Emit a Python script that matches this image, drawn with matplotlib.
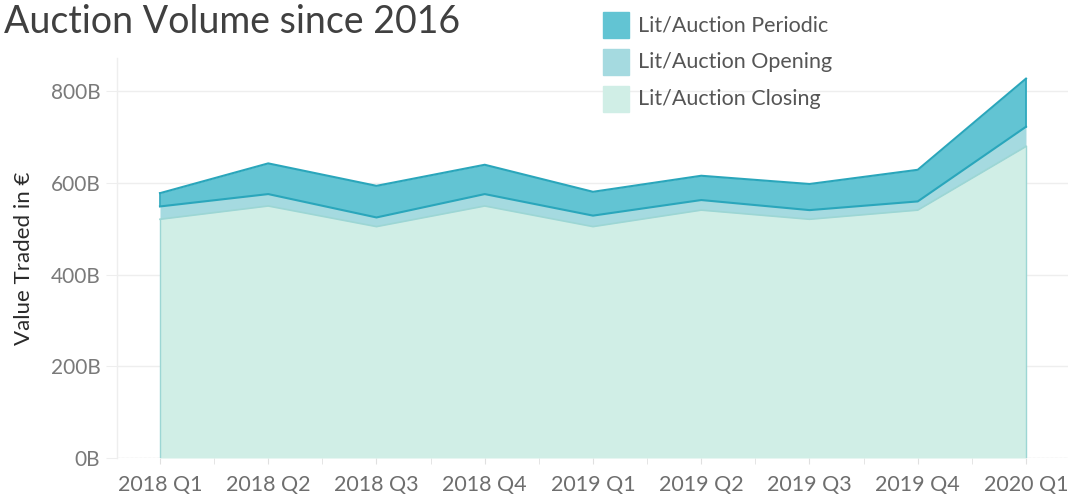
import numpy as np
import matplotlib.pyplot as plt

quarters = ['2018 Q1', '2018 Q2', '2018 Q3', '2018 Q4', '2019 Q1',
            '2019 Q2', '2019 Q3', '2019 Q4', '2020 Q1']
# values in billions of euro
closing = [521, 550, 505, 550, 505, 541, 521, 541, 680]
opening = [28, 26, 20, 26, 24, 22, 20, 19, 43]
periodic = [29, 67, 69, 64, 52, 53, 57, 69, 105]

c_per = '#62c4d3'
c_open = '#a5dae0'
c_close = '#d0eee6'
edge_dark = '#2aa6bb'
edge_light = '#9cd6d4'

plt.rcParams['font.family'] = ['Lato', 'DejaVu Sans']

fig = plt.figure(figsize=(10.68, 4.95), dpi=100)
ax = fig.add_axes([117 / 1068, 1 - 458 / 495, 1 - 117 / 1068, 400 / 495])

x = np.arange(len(quarters))
b1 = np.array(closing)
b2 = b1 + np.array(opening)
b3 = b2 + np.array(periodic)

ax.fill_between(x, 0, b1, color=c_close, lw=0, zorder=2)
ax.fill_between(x, b1, b2, color=c_open, lw=0, zorder=2)
ax.fill_between(x, b2, b3, color=c_per, lw=0, zorder=2)

# outlines
ax.plot(x, b1, color=edge_light, lw=1.2, zorder=3)
ax.plot([x[0], x[0]], [0, b1[0]], color=edge_light, lw=1.0, zorder=3)
ax.plot([x[-1], x[-1]], [0, b1[-1]], color=edge_light, lw=1.0, zorder=3)
ax.plot(x, b2, color=edge_dark, lw=1.5, zorder=4)
ax.plot(x, b3, color=edge_dark, lw=1.5, zorder=4)
ax.plot([x[0], x[0]], [b2[0], b3[0]], color=edge_dark, lw=1.2, zorder=4)
ax.plot([x[-1], x[-1]], [b2[-1], b3[-1]], color=edge_dark, lw=1.2, zorder=4)

ax.set_yticks([0, 200, 400, 600, 800])
ax.set_yticklabels(['0B', '200B', '400B', '600B', '800B'])
ax.set_xticks(x)
ax.set_xticklabels(quarters)
ax.set_xticks(np.arange(-0.5, 8.6, 0.5), minor=True)

ax.set_xlim(-0.397, 8.388)
ax.set_ylim(0, 873)

for s in ['top', 'right', 'bottom']:
    ax.spines[s].set_visible(False)
ax.spines['left'].set_color('#eeeeee')
ax.spines['left'].set_linewidth(1.0)

ax.grid(axis='y', color='#eeeeee', lw=1.0, zorder=0)
ax.set_axisbelow(True)
ax.axhline(0, color='#c8c8c8', lw=0.8, ls=(0, (2, 2)), zorder=1)

ax.tick_params(axis='y', length=8, color='#eeeeee', labelsize=15,
               labelcolor='#7a7a7a', pad=4)
ax.tick_params(axis='x', which='both', length=4, color='#e0e0e0', labelsize=15.5,
               labelcolor='#6e6e6e', pad=8)

ax.set_ylabel('Value Traded in €', fontsize=16, color='#2a2a2a')
ax.yaxis.set_label_coords(-0.087, 0.5)

fig.text(0.004, 0.955, 'Auction Volume since 2016', fontsize=27,
         color='#404040', va='center', ha='left')

# legend
labels = ['Lit/Auction Periodic', 'Lit/Auction Opening', 'Lit/Auction Closing']
colors = [c_per, c_open, c_close]
for i, (lab, col) in enumerate(zip(labels, colors)):
    yc = 25 + 37 * i
    fig.patches.append(plt.Rectangle((603 / 1068, 1 - (yc + 13) / 495), 26 / 1068,
                                     26 / 495, transform=fig.transFigure,
                                     color=col, figure=fig))
    fig.text(638 / 1068, 1 - yc / 495, lab, fontsize=15.5, color='#555555',
             va='center', ha='left')

fig.savefig('out.png', dpi=100)
